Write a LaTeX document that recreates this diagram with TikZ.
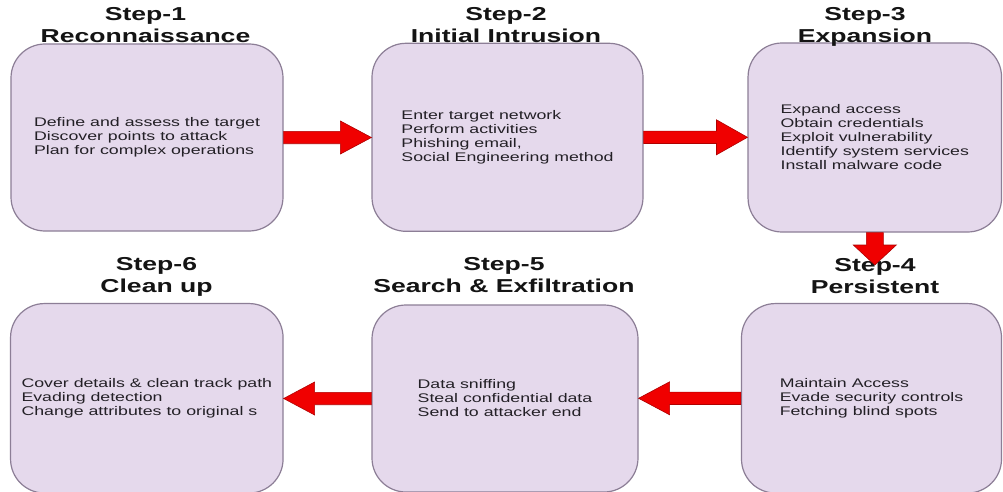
\documentclass[tikz,border=0pt]{standalone}
\usepackage{fontspec}
\setmainfont{Liberation Sans}[FakeStretch=1.42]
\usetikzlibrary{calc}
\definecolor{boxfill}{RGB}{229,217,236}
\definecolor{boxline}{RGB}{140,126,150}
\definecolor{arrred}{RGB}{240,0,0}
\definecolor{arredge}{RGB}{175,0,0}
\definecolor{bodytext}{RGB}{35,32,38}
\definecolor{titletext}{RGB}{20,20,20}
\begin{document}
\begin{tikzpicture}[x=1pt,y=-1pt,
  stepbox/.style={draw=boxline, line width=1.2pt, fill=boxfill, rounded corners=34pt,
    inner sep=0pt, align=left, font=\fontsize{12.5}{14}\selectfont, text=bodytext},
  steptitle/.style={font=\bfseries\fontsize{18.7}{22}\selectfont, align=center,
    text=titletext, anchor=south, text depth=0pt, inner sep=0pt},
  arr/.style={fill=arrred, draw=arredge, line width=0.6pt, line join=miter}]
\useasboundingbox (0,0) rectangle (1003,492);
\clip (0,0) rectangle (1003,492);
\fill[white] (0,0) rectangle (1003,492);

% boxes
\node[stepbox, minimum width=272pt, minimum height=187pt] (b1) at (147,137.5)
  {Define and assess the target\\Discover points to attack\\Plan for complex operations};
\node[stepbox, minimum width=271pt, minimum height=188pt] (b2) at (507.5,137.3)
  {Enter target network\\Perform activities\\Phishing email,\\Social Engineering method};
\node[stepbox, minimum width=253.5pt, minimum height=189pt] (b3) at (874.8,137.5)
  {Expand access\\Obtain credentials\\Exploit vulnerability\\Identify system services\\Install malware code};
\node[stepbox, minimum width=260pt, minimum height=189.5pt] (b4) at (871.5,398.3)
  {Maintain Access\\Evade security controls\\Fetching blind spots};
\node[stepbox, minimum width=266pt, minimum height=187pt] (b5) at (505,398.5)
  {Data sniffing\\Steal confidential data\\Send to attacker end};
\node[stepbox, minimum width=272.5pt, minimum height=189.5pt] (b6) at (146.8,398.3)
  {Cover details \& clean track path\\Evading detection\\Change attributes to original s};

% titles
\node[steptitle] (t1) at (145.5,43) {Step-1\\Reconnaissance};
\node[steptitle] (t2) at (506,43) {Step-2\\Initial Intrusion};
\node[steptitle] (t3) at (865,43) {Step-3\\Expansion};
\node[steptitle] (t4) at (875,294) {Step-4\\Persistent};
\node[steptitle] (t5) at (504,293) {Step-5\\Search \& Exfiltration};
\node[steptitle] (t6) at (156.5,293) {Step-6\\Clean up};

% arrows
\draw[arr] let \p1=(b1.east), \p2=(b2.west) in
  (\x1,\y1+6.2pt) -- (\x2-31pt,\y1+6.2pt) -- (\x2-31pt,\y1+16.5pt) -- (\x2,\y1)
  -- (\x2-31pt,\y1-16.5pt) -- (\x2-31pt,\y1-6.2pt) -- (\x1,\y1-6.2pt) -- cycle;
\draw[arr] let \p1=(b2.east), \p2=(b3.west) in
  (\x1,\y1+6.2pt) -- (\x2-31pt,\y1+6.2pt) -- (\x2-31pt,\y1+17.5pt) -- (\x2,\y1)
  -- (\x2-31pt,\y1-17.5pt) -- (\x2-31pt,\y1-6.2pt) -- (\x1,\y1-6.2pt) -- cycle;
\coordinate (tip34) at (874.8,265);
\draw[arr] let \p1=(b3.south), \p2=(tip34) in
  (\x1-8.5pt,\y1) -- (\x1-8.5pt,\y2+20pt) -- (\x1-21.5pt,\y2+20pt) -- (\x1,\y2)
  -- (\x1+21.5pt,\y2+20pt) -- (\x1+8.5pt,\y2+20pt) -- (\x1+8.5pt,\y1) -- cycle;
\draw[arr] let \p1=(b4.west), \p2=(b5.east) in
  (\x1,\y1+6.2pt) -- (\x2+31pt,\y1+6.2pt) -- (\x2+31pt,\y1+16.5pt) -- (\x2,\y1)
  -- (\x2+31pt,\y1-16.5pt) -- (\x2+31pt,\y1-6.2pt) -- (\x1,\y1-6.2pt) -- cycle;
\draw[arr] let \p1=(b5.west), \p2=(b6.east) in
  (\x1,\y1+6.2pt) -- (\x2+31pt,\y1+6.2pt) -- (\x2+31pt,\y1+16.5pt) -- (\x2,\y1)
  -- (\x2+31pt,\y1-16.5pt) -- (\x2+31pt,\y1-6.2pt) -- (\x1,\y1-6.2pt) -- cycle;
\end{tikzpicture}
\end{document}
